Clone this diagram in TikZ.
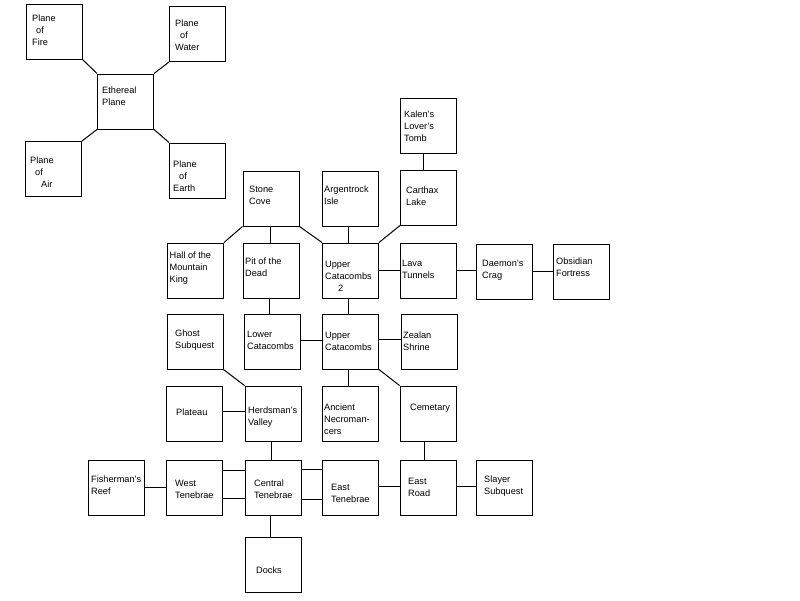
\documentclass[tikz,border=0pt]{standalone}
\usepackage{fontspec}
\setmainfont{Liberation Sans}
\begin{document}
\begin{tikzpicture}[x=1pt,y=-1pt,
  box/.style={draw=black,line width=1pt,minimum width=56pt,minimum height=55pt,inner sep=0pt,fill=white},
  lbl/.style={anchor=base west,inner sep=0pt,align=left,font=\fontsize{9.2}{12}\selectfont},
  link/.style={draw=black,line width=1pt}]
\useasboundingbox[fill=white] (0,0) rectangle (800,600);
% boxes
\node[box] (fire) at (54,31.5) {};
\node[box] (water) at (197.5,34) {};
\node[box] (eth) at (125.5,101.5) {};
\node[box] (air) at (53.5,169) {};
\node[box] (earth) at (197.5,170.5) {};
\node[box] (kalen) at (428.5,125.5) {};
\node[box] (stone) at (271,198.5) {};
\node[box] (argent) at (350.5,198.5) {};
\node[box] (carthax) at (428.5,197.5) {};
\node[box] (hall) at (195.5,270.5) {};
\node[box] (pit) at (271,270.5) {};
\node[box] (uctwo) at (350.5,270.5) {};
\node[box] (lava) at (428.5,270.5) {};
\node[box] (daemon) at (504.5,271.5) {};
\node[box] (obsidian) at (581,271.5) {};
\node[box] (ghost) at (195,341.5) {};
\node[box] (lower) at (272,341.5) {};
\node[box] (uc) at (350.5,341.5) {};
\node[box] (zealan) at (429,341.5) {};
\node[box] (plateau) at (194,413.5) {};
\node[box] (herds) at (273,413.5) {};
\node[box] (ancient) at (350.5,413.5) {};
\node[box] (cemetary) at (428,413.5) {};
\node[box] (fisher) at (116,487.5) {};
\node[box] (westt) at (194.5,487.5) {};
\node[box] (central) at (273,487.5) {};
\node[box] (eastt) at (350,487.5) {};
\node[box] (eroad) at (428.5,487.5) {};
\node[box] (slayer) at (504,487.5) {};
\node[box] (docks) at (273,564.5) {};
% labels (anchor at baseline of the last line)
\node[lbl] (fire-t) at (32,45) {Plane\\\hspace*{4pt}of\\Fire};
\node[lbl] (water-t) at (175,50) {Plane\\\hspace*{5pt}of\\Water};
\node[lbl] (eth-t) at (102,105) {Ethereal\\Plane};
\node[lbl] (air-t) at (30,187) {Plane\\\hspace*{5pt}of\\\hspace*{11pt}Air};
\node[lbl] (earth-t) at (173,191) {Plane\\\hspace*{6pt}of\\Earth};
\node[lbl] (kalen-t) at (404,141) {Kalen's\\Lover's\\Tomb};
\node[lbl] (stone-t) at (249,204) {Stone\\Cove};
\node[lbl] (argent-t) at (324,204) {Argentrock\\Isle};
\node[lbl] (carthax-t) at (406,205) {Carthax\\Lake};
\node[lbl] (hall-t) at (169.5,282) {Hall of the\\Mountain\\King};
\node[lbl] (pit-t) at (245,276) {Pit of the\\Dead};
\node[lbl] (uctwo-t) at (325,291) {Upper\\Catacombs\\\hspace*{13pt}2};
\node[lbl] (lava-t) at (402,278) {Lava\\Tunnels};
\node[lbl] (daemon-t) at (482,278) {Daemon's\\Crag};
\node[lbl] (obsidian-t) at (556,276) {Obsidian\\Fortress};
\node[lbl] (ghost-t) at (175,348) {Ghost\\Subquest};
\node[lbl] (lower-t) at (247,349) {Lower\\Catacombs};
\node[lbl] (uc-t) at (325,350) {Upper\\Catacombs};
\node[lbl] (zealan-t) at (403,350) {Zealan\\Shrine};
\node[lbl] (plateau-t) at (176,415) {Plateau};
\node[lbl] (herds-t) at (248,425) {Herdsman's\\Valley};
\node[lbl] (ancient-t) at (324,434) {Ancient\\Necroman-\\cers};
\node[lbl] (cemetary-t) at (410,410) {Cemetary};
\node[lbl] (fisher-t) at (91,494) {Fisherman's\\Reef};
\node[lbl] (westt-t) at (175,498) {West\\Tenebrae};
\node[lbl] (central-t) at (254,498) {Central\\Tenebrae};
\node[lbl] (eastt-t) at (331,502) {East\\Tenebrae};
\node[lbl] (eroad-t) at (408,496) {East\\Road};
\node[lbl] (slayer-t) at (484,494) {Slayer\\Subquest};
\node[lbl] (docks-t) at (256,573) {Docks};
% connectors
\path[link] (fire.south east) -- (eth.north west);
\path[link] (water.south west) -- (eth.north east);
\path[link] (air.north east) -- (eth.south west);
\path[link] (earth.north west) -- (eth.south east);
\path[link] ([xshift=-5.5pt]kalen.south) -- ([xshift=-5.5pt]carthax.north);
\path[link] (stone.south west) -- (hall.north east);
\path[link] ([xshift=-1pt]stone.south) -- ([xshift=-1pt]pit.north);
\path[link] (stone.south east) -- (uctwo.north west);
\path[link] ([xshift=-2.5pt]argent.south) -- ([xshift=-2.5pt]uctwo.north);
\path[link] (carthax.south west) -- (uctwo.north east);
\path[link] (uctwo.east) -- (lava.west);
\path[link] (lava.east) -- (lava.east -| daemon.west);
\path[link] (daemon.east) -- (obsidian.west);
\path[link] ([xshift=-2pt]pit.south) -- ([xshift=-2pt]pit.south |- lower.north);
\path[link] ([xshift=-2.5pt]uctwo.south) -- ([xshift=-2.5pt]uc.north);
\path[link] ([yshift=1.5pt]lower.east) -- ([yshift=1.5pt]lower.east -| uc.west);
\path[link] ([yshift=2.5pt]uc.east) -- ([yshift=2.5pt]uc.east -| zealan.west);
\path[link] (ghost.south east) -- (herds.north west);
\path[link] ([xshift=-2.5pt]uc.south) -- ([xshift=-2.5pt]ancient.north);
\path[link] (uc.south east) -- (cemetary.north west);
\path[link] ([yshift=2.5pt]plateau.east) -- ([yshift=2.5pt]herds.west);
\path[link] ([xshift=-1.5pt]herds.south) -- ([xshift=-1.5pt]central.north);
\path[link] ([xshift=-4pt]cemetary.south) -- ([xshift=-4pt]cemetary.south |- eroad.north);
\path[link] (fisher.east) -- (westt.west);
\path[link] ([yshift=-11pt]westt.north east) -- ([yshift=-11pt]central.north west);
\path[link] ([yshift=17pt]westt.south east) -- ([yshift=17pt]central.south west);
\path[link] ([yshift=-10pt]central.north east) -- ([yshift=-10pt]eastt.north west);
\path[link] ([yshift=16pt]central.south east) -- ([yshift=16pt]eastt.south west);
\path[link] ([yshift=1.5pt]eastt.east) -- ([yshift=1.5pt]eroad.west);
\path[link] ([yshift=1.5pt]eroad.east) -- ([yshift=1.5pt]slayer.west);
\path[link] ([xshift=-3pt]central.south) -- ([xshift=-3pt]docks.north);
\end{tikzpicture}
\end{document}
